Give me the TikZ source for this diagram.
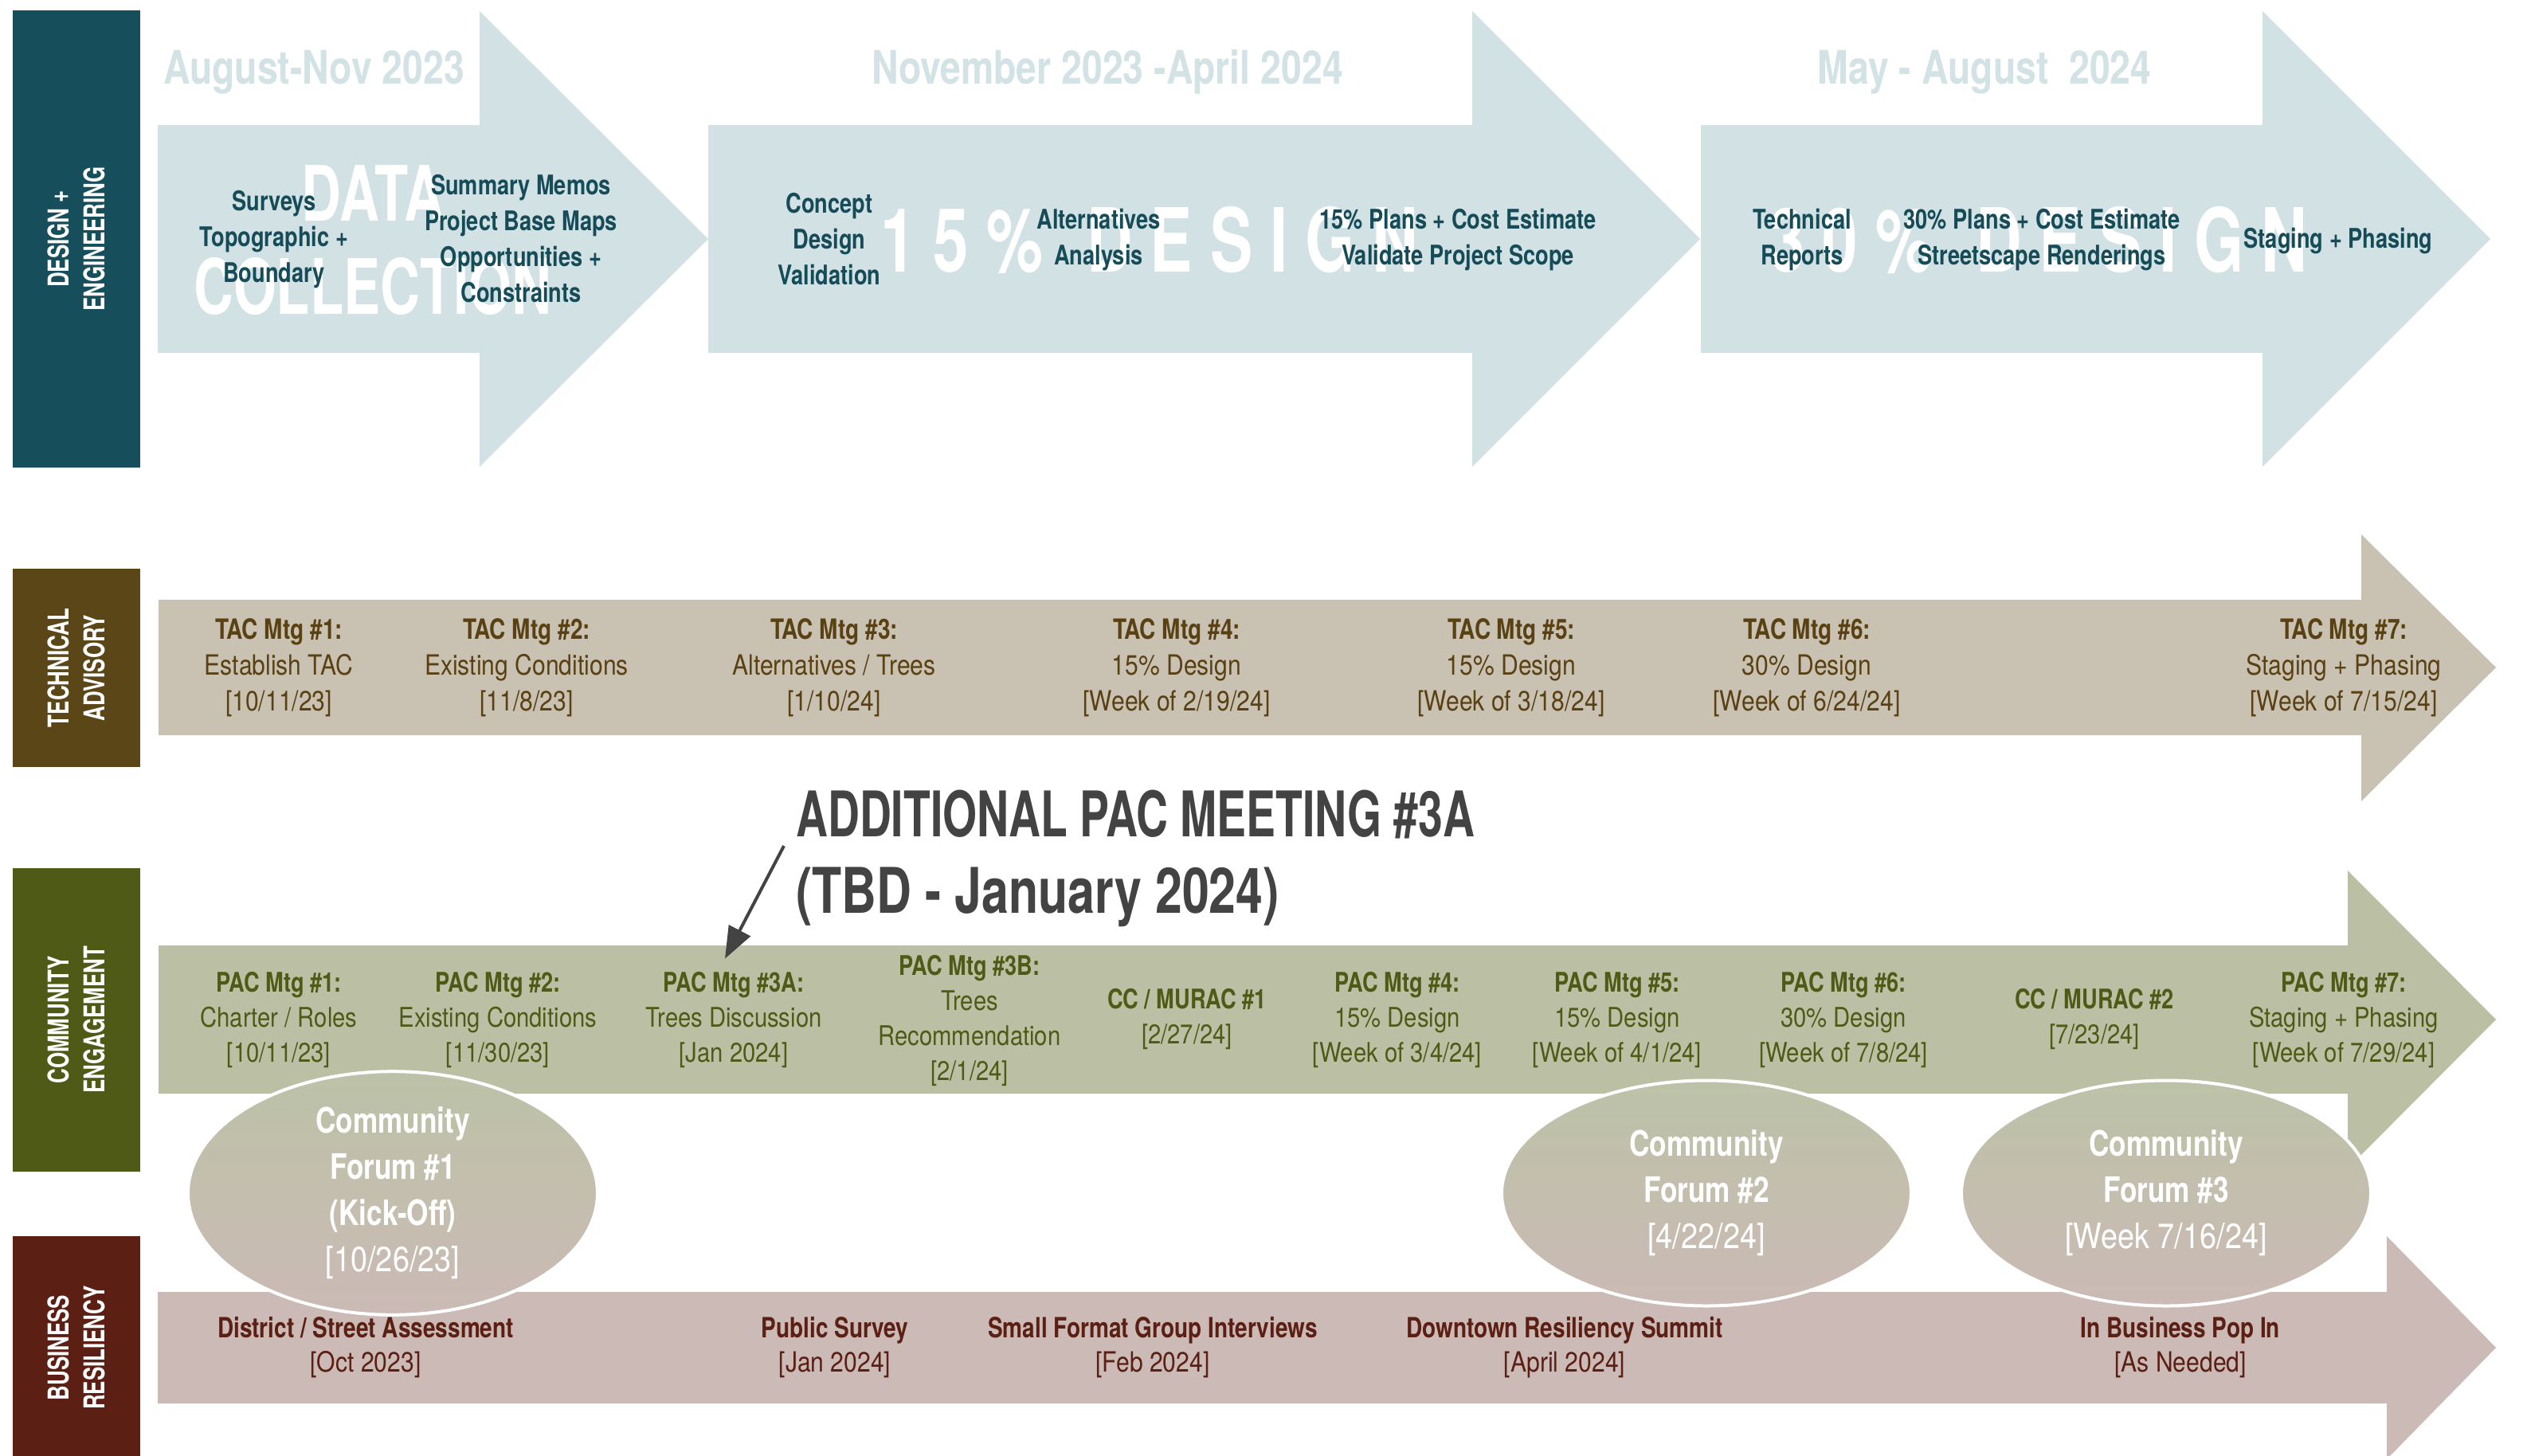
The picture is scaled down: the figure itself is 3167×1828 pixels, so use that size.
\documentclass[tikz,border=0pt]{standalone}
\usepackage{fontspec}
\setmainfont{TeX Gyre Heros}[UprightFeatures={FakeStretch=0.86},BoldFeatures={FakeStretch=0.8}]
\newfontfamily\capfont{TeX Gyre Heros}[FakeStretch=0.72]
\newfontfamily\annfontA{TeX Gyre Heros}[FakeStretch=0.70]
\newfontfamily\annfontB{TeX Gyre Heros}[FakeStretch=0.77]
\usetikzlibrary{arrows.meta,shapes.geometric}
\definecolor{dfill}{HTML}{D1E1E4}
\definecolor{dlab}{HTML}{174E5B}
\definecolor{dtext}{HTML}{164B58}
\definecolor{ddate}{HTML}{D3E2E4}
\definecolor{tfill}{HTML}{C9C1B1}
\definecolor{tlab}{HTML}{5B4617}
\definecolor{ttext}{HTML}{5A4113}
\definecolor{cfill}{HTML}{BBC0A4}
\definecolor{clab}{HTML}{4F5A17}
\definecolor{ctext}{HTML}{4E5A15}
\definecolor{bfill}{HTML}{CCBAB6}
\definecolor{blab}{HTML}{5B1F14}
\definecolor{btext}{HTML}{5B1F14}
\definecolor{ftop}{HTML}{BCC2A7}
\definecolor{fbot}{HTML}{CBBAB5}
\definecolor{anncol}{HTML}{434343}
\begin{document}
\begin{tikzpicture}[x=1pt,y=-1pt,
  lab/.style={rotate=90, inner sep=0pt, text=white, align=center, font=\capfont\bfseries\fontsize{36}{45}\selectfont, minimum height=160pt},
  ditem/.style={inner sep=0pt, align=center, text=dtext, font=\bfseries\fontsize{34}{45}\selectfont},
  titem/.style={inner sep=0pt, align=center, text=ttext, font=\fontsize{35}{45}\selectfont},
  citem/.style={inner sep=0pt, align=center, text=ctext, font=\fontsize{34}{44}\selectfont},
  bitem/.style={inner sep=0pt, align=center, text=btext, font=\fontsize{35}{43}\selectfont},
  datelbl/.style={anchor=base, inner sep=0pt, text=ddate, font=\bfseries\fontsize{58}{60}\selectfont},
  wm/.style={inner sep=0pt, text=white, align=center, font=\capfont\bfseries\fontsize{96}{117}\selectfont},
  wmd/.style={anchor=base, inner sep=0pt, text=white, font=\capfont\bfseries\fontsize{111}{111}\selectfont},
  forum/.style={ellipse, draw=white, line width=4pt, top color=ftop, bottom color=fbot, minimum width=514pt, minimum height=283pt, inner sep=0pt, align=center, text=white, font=\bfseries\fontsize{44}{58}\selectfont},
  ann/.style={inner sep=0pt, align=left, text=anncol, font=\bfseries\fontsize{79}{96}\selectfont},
  annarrow/.style={draw=anncol, line width=4pt, -{Triangle[length=40pt,width=30pt]}}
]
\useasboundingbox (0,0) rectangle (3167,1828);
\clip (0,0) rectangle (3167,1828);
\fill[white] (0,0) rectangle (3167,1828);

% ---------- DESIGN + ENGINEERING ----------
\node[lab, fill=dlab, minimum width=574pt] (ldes) at (96,300) {DESIGN +\\ENGINEERING};
\fill[dfill] (198,157) -- (602,157) -- (602,14) -- (889,300) -- (602,586) -- (602,443) -- (198,443) -- cycle;
\fill[dfill] (889,157) -- (1848,157) -- (1848,14) -- (2134,300) -- (1848,586) -- (1848,443) -- (889,443) -- cycle;
\fill[dfill] (2135,157) -- (2840,157) -- (2840,14) -- (3126,300) -- (2840,586) -- (2840,443) -- (2135,443) -- cycle;
\node[datelbl] (dt1) at (394,105) {August-Nov 2023};
\node[datelbl] (dt2) at (1390,105) {November 2023 -April 2024};
\node[datelbl] (dt3) at (2491,105) {May - August~ 2024};
\node[wm] (wmdc) at (468,302) {DATA\\COLLECTION};
\node[wmd] (wm15) at (1443,341) {1\hspace{22pt}5\hspace{22pt}\%\hspace{55pt}D\hspace{22pt}E\hspace{22pt}S\hspace{22pt}I\hspace{22pt}G\hspace{22pt}N};
\node[wmd] (wm30) at (2559,341) {3\hspace{22pt}0\hspace{22pt}\%\hspace{55pt}D\hspace{22pt}E\hspace{22pt}S\hspace{22pt}I\hspace{22pt}G\hspace{22pt}N};
\node[ditem] (surv) at (344,301) {Surveys\\Topographic +\\Boundary};
\node[ditem] (summ) at (654,300) {Summary Memos\\Project Base Maps\\Opportunities +\\Constraints};
\node[ditem] (conc) at (1041,300) {Concept\\Design\\Validation};
\node[ditem] (alts) at (1379,301) {Alternatives\\Analysis};
\node[ditem] (p15) at (1830,301) {15\% Plans + Cost Estimate\\Validate Project Scope};
\node[ditem] (tech) at (2262,301) {Technical\\Reports};
\node[ditem] (p30) at (2563,301) {30\% Plans + Cost Estimate\\Streetscape Renderings};
\node[ditem] (stag) at (2935,303) {Staging + Phasing};

% ---------- TECHNICAL ADVISORY ----------
\node[lab, fill=tlab, minimum width=249pt] (ltac) at (96,838.5) {TECHNICAL\\ADVISORY};
\fill[tfill] (199,753) -- (2964,753) -- (2964,671) -- (3133,838) -- (2964,1006) -- (2964,923) -- (199,923) -- cycle;
\node[titem] (tac1) at (350,838) {{\bfseries TAC Mtg \#1:}\\Establish TAC\\{}[10/11/23]};
\node[titem] (tac2) at (661,838) {{\bfseries TAC Mtg \#2:}\\Existing Conditions\\{}[11/8/23]};
\node[titem] (tac3) at (1047,838) {{\bfseries TAC Mtg \#3:}\\Alternatives / Trees\\{}[1/10/24]};
\node[titem] (tac4) at (1477,838) {{\bfseries TAC Mtg \#4:}\\15\% Design\\{}[Week of 2/19/24]};
\node[titem] (tac5) at (1897,838) {{\bfseries TAC Mtg \#5:}\\15\% Design\\{}[Week of 3/18/24]};
\node[titem] (tac6) at (2268,838) {{\bfseries TAC Mtg \#6:}\\30\% Design\\{}[Week of 6/24/24]};
\node[titem] (tac7) at (2942,838) {{\bfseries TAC Mtg \#7:}\\Staging + Phasing\\{}[Week of 7/15/24]};

% ---------- COMMUNITY ENGAGEMENT ----------
\node[lab, fill=clab, minimum width=381pt] (lce) at (96,1280.5) {COMMUNITY\\ENGAGEMENT};
\fill[cfill] (199,1187) -- (2947,1187) -- (2947,1093) -- (3133,1280) -- (2947,1467) -- (2947,1373) -- (199,1373) -- cycle;
\node[citem] (pac1) at (350,1280) {{\bfseries PAC Mtg \#1:}\\Charter / Roles\\{}[10/11/23]};
\node[citem] (pac2) at (625,1280) {{\bfseries PAC Mtg \#2:}\\Existing Conditions\\{}[11/30/23]};
\node[citem] (pac3a) at (921,1280) {{\bfseries PAC Mtg \#3A:}\\Trees Discussion\\{}[Jan 2024]};
\node[citem] (pac3b) at (1217,1281) {{\bfseries PAC Mtg \#3B:}\\Trees\\Recommendation\\{}[2/1/24]};
\node[citem] (cc1) at (1490,1279) {{\bfseries CC / MURAC \#1}\\{}[2/27/24]};
\node[citem] (pac4) at (1754,1280) {{\bfseries PAC Mtg \#4:}\\15\% Design\\{}[Week of 3/4/24]};
\node[citem] (pac5) at (2030,1280) {{\bfseries PAC Mtg \#5:}\\15\% Design\\{}[Week of 4/1/24]};
\node[citem] (pac6) at (2314,1280) {{\bfseries PAC Mtg \#6:}\\30\% Design\\{}[Week of 7/8/24]};
\node[citem] (cc2) at (2629,1279) {{\bfseries CC / MURAC \#2}\\{}[7/23/24]};
\node[citem] (pac7) at (2942,1280) {{\bfseries PAC Mtg \#7:}\\Staging + Phasing\\{}[Week of 7/29/24]};

\node[ann, anchor=north west] (ann) at (999,992) {{\annfontA\bfseries ADDITIONAL PAC MEETING \#3A}\\{\annfontB\bfseries (TBD - January 2024)}};
\coordinate (annS) at (984,1062);
\draw[annarrow] (annS) -- ([xshift=-11pt,yshift=16pt]pac3a.north);

% ---------- BUSINESS RESILIENCY ----------
\node[lab, fill=blab, minimum width=280pt] (lbr) at (96,1692) {BUSINESS\\RESILIENCY};
\fill[bfill] (198,1622) -- (2996,1622) -- (2996,1552) -- (3133,1692) -- (2996,1832) -- (2996,1762) -- (198,1762) -- cycle;
\node[bitem] (br1) at (459,1692) {{\bfseries District / Street Assessment}\\{}[Oct 2023]};
\node[bitem] (br2) at (1048,1692) {{\bfseries Public Survey}\\{}[Jan 2024]};
\node[bitem] (br3) at (1447,1692) {{\bfseries Small Format Group Interviews}\\{}[Feb 2024]};
\node[bitem] (br4) at (1964,1692) {{\bfseries Downtown Resiliency Summit}\\{}[April 2024]};
\node[bitem] (br5) at (2737,1692) {{\bfseries In Business Pop In}\\{}[As Needed]};

% ---------- Community forums ----------
\node[forum] (f1) at (493,1498) {Community\\Forum \#1\\(Kick-Off)\\{\mdseries[10/26/23]}};
\node[forum] (f2) at (2142,1498) {Community\\Forum \#2\\{\mdseries[4/22/24]}};
\node[forum] (f3) at (2719,1498) {Community\\Forum \#3\\{\mdseries[Week 7/16/24]}};
\end{tikzpicture}
\end{document}
